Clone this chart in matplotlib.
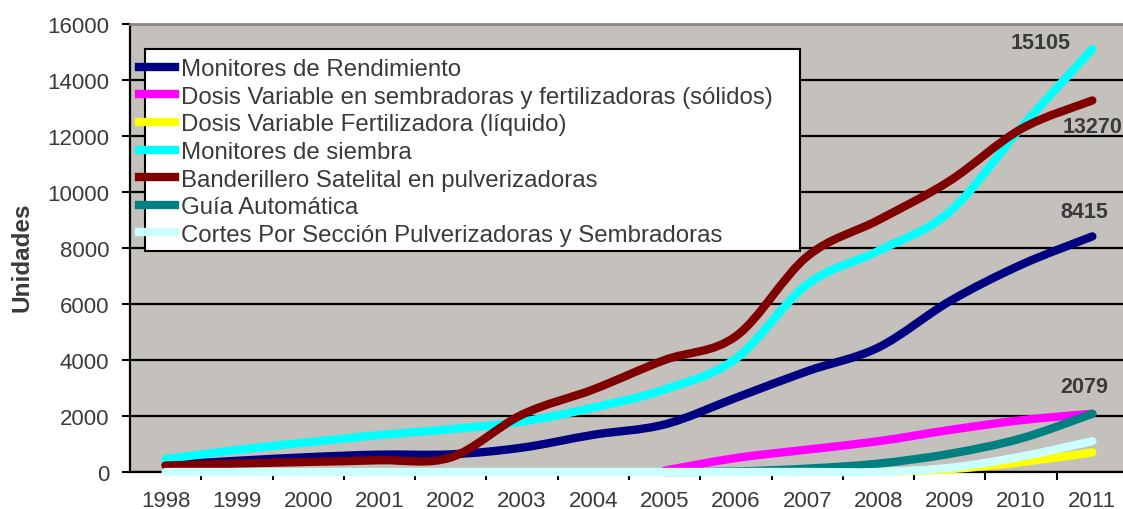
import matplotlib
matplotlib.use("Agg")
import matplotlib.pyplot as plt
import numpy as np
from matplotlib.path import Path
from matplotlib.patches import PathPatch, Rectangle
from matplotlib.lines import Line2D

plt.rcParams['font.family'] = ['Liberation Sans', 'DejaVu Sans']

nan = np.nan
years = ['1998', '1999', '2000', '2001', '2002', '2003', '2004',
         '2005', '2006', '2007', '2008', '2009', '2010', '2011']

rendimiento = [250, 400, 530, 620, 630, 870, 1330, 1700, 2650, 3600, 4450, 6100, 7400, 8415]
dosis_solidos = [nan] * 7 + [50, 500, 800, 1100, 1500, 1850, 2080]
dosis_liquido = [nan] * 10 + [0, 100, 350, 700]
siembra = [460, 790, 1060, 1320, 1530, 1800, 2300, 2950, 4050, 6700, 7900, 9300, 12300, 15105]
banderillero = [230, 300, 360, 420, 520, 2050, 2950, 4000, 4850, 7700, 9000, 10400, 12250, 13270]
guia = [nan] * 7 + [0, 20, 120, 300, 650, 1200, 2079]
cortes = [0] * 11 + [150, 550, 1100]

series = [
    ("Monitores de Rendimiento", rendimiento, "#000080"),
    ("Dosis Variable en sembradoras y fertilizadoras (sólidos)", dosis_solidos, "#ff00ff"),
    ("Dosis Variable Fertilizadora (líquido)", dosis_liquido, "#ffff00"),
    ("Monitores de siembra", siembra, "#00ffff"),
    ("Banderillero Satelital en pulverizadoras", banderillero, "#800000"),
    ("Guía Automática", guia, "#008080"),
    ("Cortes Por Sección Pulverizadoras y Sembradoras", cortes, "#ccffff"),
]

# (valor, desplazamiento en puntos)
etiquetas = [(15105, -37, 5), (13270, 0, -19), (8415, -6, 18), (2079, -6, 19.5)]


def smooth_path(xs, ys):
    # curva suavizada tipo Excel (Catmull-Rom -> Bezier)
    pts = np.column_stack([xs, ys])
    verts = [pts[0]]
    codes = [Path.MOVETO]
    n = len(pts)
    for i in range(n - 1):
        p0 = pts[max(i - 1, 0)]
        p1 = pts[i]
        p2 = pts[i + 1]
        p3 = pts[min(i + 2, n - 1)]
        c1 = p1 + (p2 - p0) / 6.0
        c2 = p2 - (p3 - p1) / 6.0
        verts += [c1, c2, p2]
        codes += [Path.CURVE4] * 3
    return Path(verts, codes)


W, H = 1123, 510
fig = plt.figure(figsize=(W / 100, H / 100), dpi=100)
ax = fig.add_axes([130 / W, 37 / H, 998 / W, 448 / H])
ax.set_facecolor('#c4c0bb')

x = np.arange(len(years))
for name, vals, color in series:
    v = np.array(vals, dtype=float)
    ok = ~np.isnan(v)
    path = smooth_path(x[ok], v[ok])
    ax.add_patch(PathPatch(path, fill=False, edgecolor=color, lw=6,
                           capstyle='round', joinstyle='round', zorder=3, clip_on=False))

ax.set_xlim(-0.5, 13.5)
ax.set_ylim(0, 16000)
ax.set_yticks(range(0, 16001, 2000))
ax.set_xticks(x)
ax.set_xticklabels(years)
ax.set_xticks(np.arange(0.5, 13.5, 1), minor=True)
ax.tick_params(axis='x', which='major', length=0, pad=13, labelsize=16, labelcolor='#3a3a3a')
ax.tick_params(axis='x', which='minor', length=6, width=1.5, color='black')
ax.tick_params(axis='y', length=6, width=1.5, pad=9, labelsize=16, labelcolor='#3a3a3a')
ax.grid(axis='y', color='black', lw=1.6, zorder=1)
ax.set_axisbelow(True)
ax.spines['top'].set_color('#8a8886')
ax.spines['top'].set_linewidth(2)
ax.spines['right'].set_visible(False)
ax.spines['left'].set_linewidth(1.6)
ax.spines['bottom'].set_linewidth(1.6)

for val, dx, dy in etiquetas:
    ax.annotate(str(val), (13, val), xytext=(dx, dy), textcoords='offset points',
                ha='center', va='center', fontsize=15.5, fontweight='bold', color='#3a3a3a',
                annotation_clip=False, zorder=5)

fig.text(22 / W, 1 - 257 / H, 'Unidades', rotation=90, ha='center', va='center',
         fontsize=17.5, fontweight='bold', color='#3a3a3a')

# caja de la leyenda
ax.add_patch(Rectangle((145 / W, 1 - 252 / H), 655 / W, 202 / H, transform=fig.transFigure,
                       facecolor='white', edgecolor='black', lw=1.5, zorder=4, clip_on=False))
handles = [Line2D([], [], color=c, lw=6) for _, _, c in series]
leg = ax.legend(handles, [s[0] for s in series], loc='upper left',
                bbox_to_anchor=(139 / W, 1 - 59 / H), bbox_transform=fig.transFigure,
                frameon=False, fontsize=17.3, handlelength=1.5, handletextpad=0.25,
                labelspacing=0.235, borderpad=0, borderaxespad=0)
leg.set_zorder(6)
for t in leg.get_texts():
    t.set_color('#3a3a3a')

fig.savefig('out.png', dpi=100)
